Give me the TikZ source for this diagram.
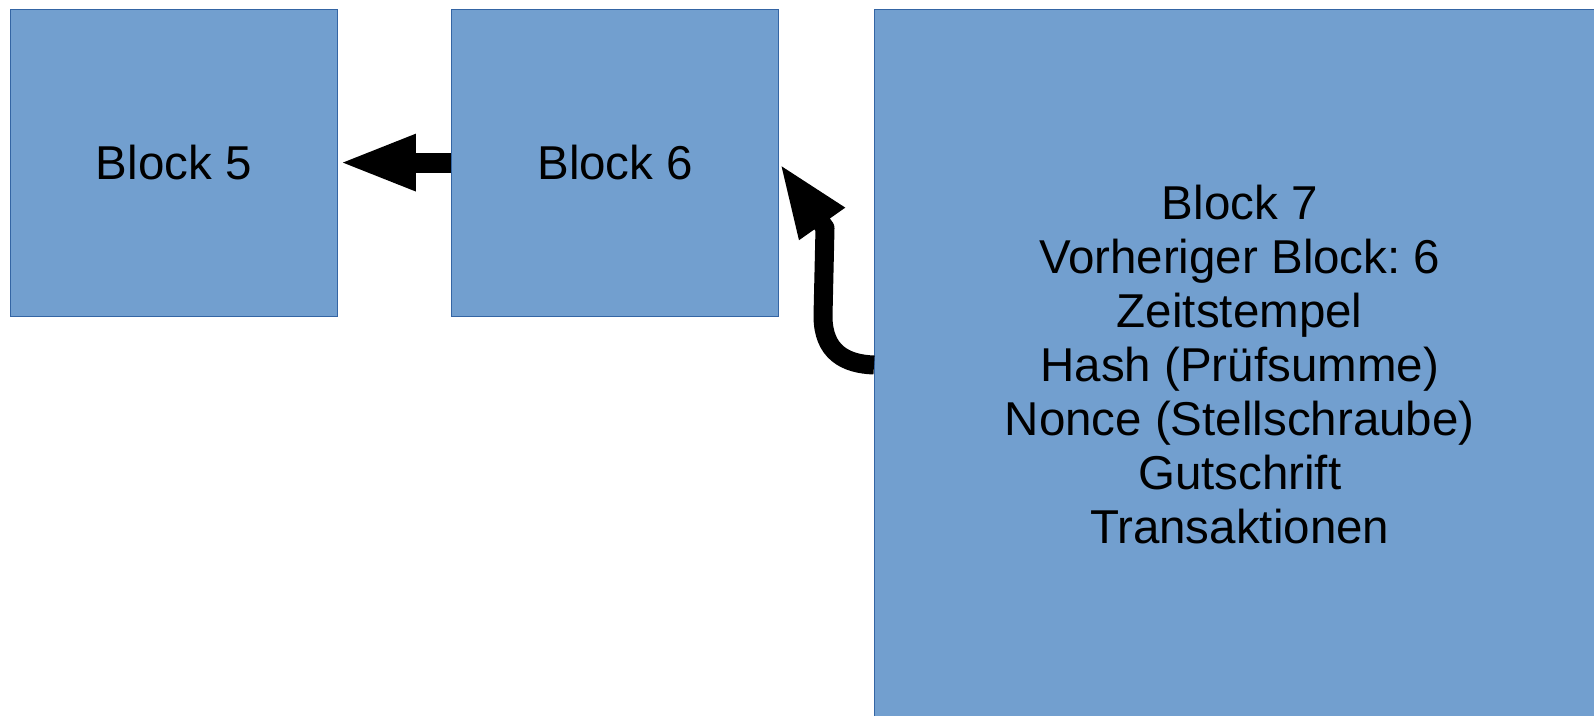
\documentclass[tikz,border=0pt]{standalone}
\usepackage{fontspec}
\setmainfont{Liberation Sans}
\usetikzlibrary{arrows.meta}
\definecolor{blockfill}{HTML}{729FCF}
\definecolor{blockline}{HTML}{3465A4}
\frenchspacing
\begin{document}
\begin{tikzpicture}[x=1pt,y=-1pt,
  blockbox/.style={rectangle, draw=blockline, fill=blockfill, line width=1pt,
    inner sep=0pt, align=center, font=\fontsize{47.5}{54}\selectfont},
  bigarrow/.style={draw=black, line width=#1, line join=round}]
\useasboundingbox (0,0) rectangle (1594,715);
\fill[white] (0,0) rectangle (1594,715);
\node[blockbox, minimum width=327.3pt, minimum height=307pt] (b5) at (173.8,162.6) {Block 5};
\node[blockbox, minimum width=326.5pt, minimum height=307pt] (b6) at (615.2,162.6) {Block 6};
\node[blockbox, minimum width=730.4pt, minimum height=712pt] (b7) at (1239.7,365)
  {Block 7\\Vorheriger Block: 6\\Zeitstempel\\Hash (Prüfsumme)\\Nonce (Stellschraube)\\Gutschrift\\Transaktionen};
\draw[bigarrow=20pt, -{Triangle[length=78pt,width=51pt]}] (b6.west) -- (b5.east);
\coordinate (c2) at (823,316);
\coordinate (c3) at (825,228);
\draw[bigarrow=19pt, -{Triangle[length=75pt,width=50pt]}]
  (b7.west) .. controls (845,364) and (823,352) .. (c2) -- (c3) -- (b6.east);
\end{tikzpicture}
\end{document}
